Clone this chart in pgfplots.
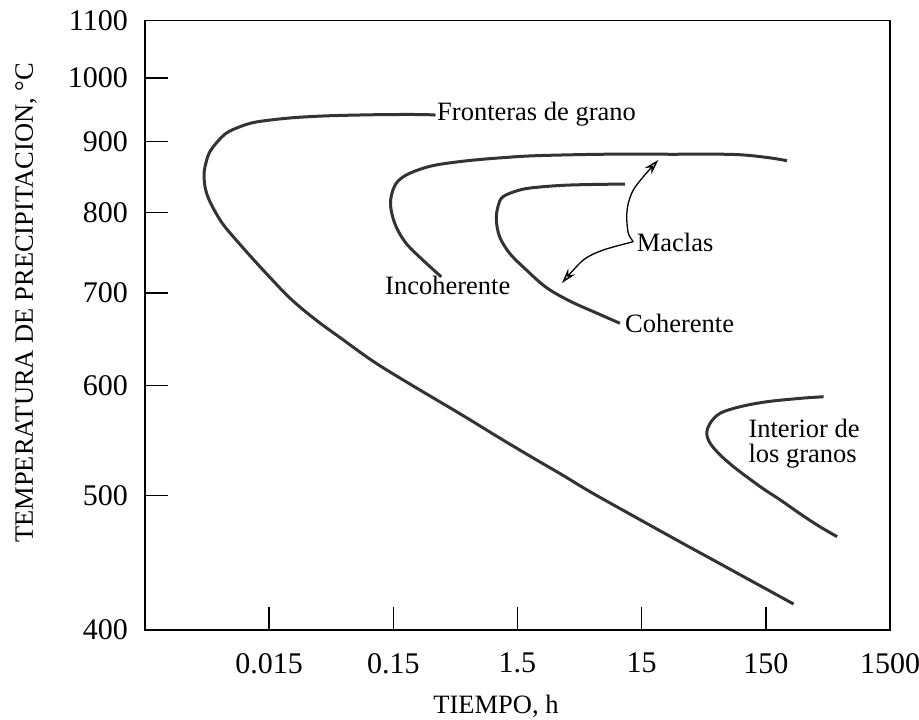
\documentclass[border=0pt]{standalone}
\usepackage{fontspec}
\setmainfont{Liberation Serif}
\usepackage{pgfplots}
\pgfplotsset{compat=1.18}
\usetikzlibrary{arrows.meta}
\newcommand{\tfont}{\fontsize{30bp}{36bp}\selectfont}
\newcommand{\lfont}{\fontsize{26.5bp}{31bp}\selectfont}
\begin{document}
\begin{tikzpicture}
\begin{axis}[
  at={(0,0)}, anchor=south west,
  scale only axis, width=745bp, height=609.3bp,
  xmode=log, ymode=log,
  xmin=0.0015, xmax=1500, ymin=400, ymax=1100,
  xtick={0.015,0.15,1.5,15,150,1500},
  xticklabels={0.015,0.15,1.5,15,150,1500},
  ytick={400,500,600,700,800,900,1000,1100},
  yticklabels={400,500,600,700,800,900,1000,1100},
  xminorticks=false, yminorticks=false,
  tick align=inside, tick pos=left,
  major tick length=23bp,
  major tick style={line width=1.5bp, black},
  axis line style={line width=1.6bp, black},
  /pgf/number format/assume math mode=true,
  xticklabel style={font=\tfont, inner sep=0pt, anchor=north, yshift=-23bp},
  yticklabel style={font=\tfont, inner sep=0pt, anchor=east, xshift=-17bp},
  curve/.style={line width=3bp, black!80, smooth, tension=0.55, mark=none},
]
% Fronteras de grano
\addplot[curve] coordinates {
(0.328,940.4) (0.2576,941.2) (0.1395,941.2) (0.0756,940.4) (0.0402,938.9)
(0.02175,935.8) (0.01178,929.6) (0.00859,921.9) (0.006745,912.3) (0.005601,897.3)
(0.00492,882.5) (0.004566,863.1) (0.004482,848.9) (0.004625,830.4) (0.005078,812.2)
(0.006299,785.7) (0.00859,760.1) (0.011715,736.8) (0.015948,715.1) (0.02175,694.7)
(0.029675,678.2) (0.04039,663.7) (0.0551,650.6) (0.10229,625.2) (0.1903,604.0)
(0.5448,571.1) (1.0133,552.0) (1.882,534.0) (3.494,517.0)
(6.501,500.1) (30.57,463.0) (56.76,449.2) (105.6,435.7)
(173.1,425.3) (251.0,417.6)
};
% Incoherente
\addplot[curve] coordinates {
(0.3647,719.0) (0.2591,739.3) (0.1903,760.1) (0.1580,781.3) (0.1440,803.3)
(0.1440,821.2) (0.1580,839.6) (0.1903,851.3) (0.2591,860.8) (0.3534,866.5)
(0.6171,872.1) (1.1457,876.2) (2.132,879.1) (7.347,881.2) (25.38,881.2)
(82.3,880.9) (153.1,876.5) (222.0,871.8)
};
% Coherente
\addplot[curve] coordinates {
(11.0,838.7) (3.957,837.3) (2.132,834.1) (1.563,830.4) (1.1457,821.2)
(1.0437,807.7) (1.0133,790.1) (1.0771,768.4) (1.2975,747.6) (1.770,727.1)
(2.567,706.2) (3.957,690.6) (6.501,677.0) (10.02,665.6)
};
% Interior de los granos
\addplot[curve] coordinates {
(438.4,589.2) (284.3,587.6) (153.1,584.3) (93.24,579.5) (64.28,573.2)
(53.37,563.8) (50.19,554.5) (53.37,545.4) (64.28,534.9) (82.3,524.6)
(105.6,515.7) (143.7,505.5) (196.0,496.4) (284.3,485.0) (399.4,475.4)
(562.3,467.0)
};
\end{axis}
% annotations (1bp = 1px of the reference; axis origin at px (145,630))
\node[font=\lfont, anchor=base west, inner sep=0pt] at (292bp,509bp) {Fronteras de grano};
\node[font=\lfont, anchor=base west, inner sep=0pt] at (240bp,335bp) {Incoherente};
\node[font=\lfont, anchor=base west, inner sep=0pt] at (480bp,297bp) {Coherente};
\node[font=\lfont, anchor=base west, inner sep=0pt] at (491.7bp,378.3bp) {Maclas};
\node[font=\lfont, anchor=base west, inner sep=0pt] at (603.3bp,192bp) {Interior de};
\node[font=\lfont, anchor=base west, inner sep=0pt] at (603.3bp,167bp) {los granos};
\draw[line width=1.3bp, -{Stealth[open, fill=black!30, length=15bp, width=9bp]}]
  plot[smooth] coordinates {(488.3bp,388.3bp) (483.3bp,396.7bp) (481.7bp,413.3bp) (483.3bp,426.7bp) (488.3bp,440bp) (498.3bp,453.3bp) (513.3bp,470bp)};
\draw[line width=1.3bp, -{Stealth[open, fill=black!30, length=15bp, width=9bp]}]
  plot[smooth] coordinates {(488.3bp,388.3bp) (458.3bp,380bp) (438.3bp,370bp) (417bp,347bp)};
\node[font=\lfont, anchor=base, inner sep=0pt] at (351bp,-83bp) {TIEMPO, h};
\node[font=\lfont, anchor=base, inner sep=0pt, rotate=90] at (-112bp,327bp) {TEMPERATURA DE PRECIPITACION, °C};
\pgfresetboundingbox
\path[use as bounding box] (-145bp,-90bp) rectangle (774bp,630bp);
\end{tikzpicture}
\end{document}
